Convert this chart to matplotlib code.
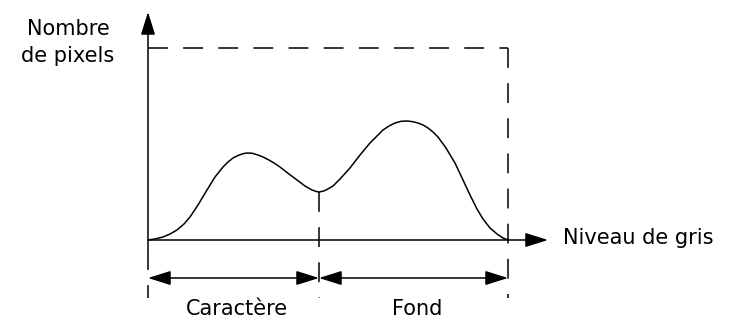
import numpy as np
import matplotlib
matplotlib.use('Agg')
import matplotlib.pyplot as plt

# histogramme schematique (niveau de gris -> nombre de pixels)
niveau = [0, 7, 15, 22, 29, 36, 42, 50, 59, 67, 75, 80, 85, 90, 95, 99, 104, 110,
          115, 120, 126, 132, 141, 149, 157, 164, 168, 171, 175, 178, 185, 192, 202,
          212, 222, 235, 241, 247, 253, 259, 265, 270, 275, 280, 285, 290, 298, 307,
          315, 322, 329, 335, 342, 349, 355, 360]
pixels = [0, 1, 3, 6, 10, 16, 23, 35, 50, 63, 73, 78, 82, 84.5, 86.3, 87, 86.8, 85,
          83, 80.5, 77, 73, 66, 60, 54, 50, 48.6, 48, 48.8, 50, 54, 61, 72,
          85, 97, 110, 114, 117, 118.7, 119, 118.3, 117, 115, 112, 108, 103, 92, 77,
          60, 45, 31, 21, 12, 6, 2, 0]
seuil = 171
niveau_max = 360
pixels_max = 192
labels = ['Caractère', 'Fond']
titre_x = 'Niveau de gris'
titre_y = 'Nombre\nde pixels'

fig = plt.figure(figsize=(7.46, 3.2), dpi=100)
ax = fig.add_axes([0, 0, 1, 1])
ax.set_xlim(-148, 598)
ax.set_ylim(-80, 240)
ax.axis('off')

lw = 1.1
dash = (13, 10)
font = 15

# axes avec fleches
arrow = dict(arrowstyle='-|>,head_length=0.7,head_width=0.22', color='black',
             lw=lw, shrinkA=0, shrinkB=0, mutation_scale=20)
ax.annotate('', xy=(0, 228), xytext=(0, -10), arrowprops=arrow)
ax.annotate('', xy=(400, 0), xytext=(0, 0), arrowprops=arrow)

# cadre en pointilles
ax.plot([0, niveau_max], [pixels_max, pixels_max], color='black', lw=lw, dashes=dash)
ax.plot([niveau_max, niveau_max], [pixels_max, -58], color='black', lw=lw, dashes=dash)
ax.plot([seuil, seuil], [pixels[niveau.index(seuil)], -58], color='black', lw=lw, dashes=dash)
ax.plot([0, 0], [-10, -58], color='black', lw=lw, dashes=(13, 10, 2, 0))

# courbe
ax.plot(niveau, pixels, color='black', lw=lw)

# fleches doubles
darrow = dict(arrowstyle='<|-|>,head_length=0.7,head_width=0.22', color='black',
              lw=lw, shrinkA=0, shrinkB=0, mutation_scale=20)
ax.annotate('', xy=(0, -38), xytext=(seuil, -38), arrowprops=darrow)
ax.annotate('', xy=(seuil, -38), xytext=(niveau_max, -38), arrowprops=darrow)

ax.text(seuil / 2 + 3, -75, labels[0], fontsize=font, ha='center', va='baseline')
ax.text((seuil + niveau_max) / 2 + 4, -75, labels[1], fontsize=font, ha='center', va='baseline')
ax.text(415, -4, titre_x, fontsize=font, ha='left', va='baseline')
ax.text(-80, 178, titre_y, fontsize=font, ha='center', va='baseline', linespacing=1.45,
        multialignment='center')

fig.savefig('out.png', dpi=100)
